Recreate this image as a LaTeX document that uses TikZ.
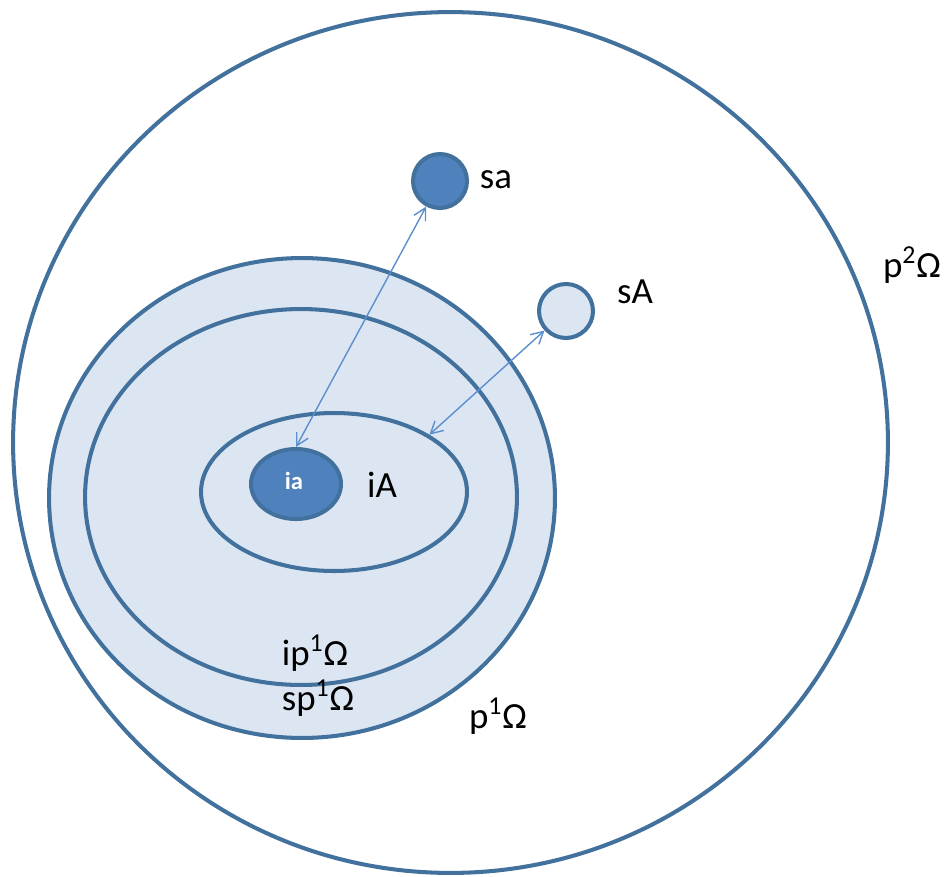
\documentclass[tikz,border=0pt]{standalone}
\usepackage{fontspec}
\setmainfont{Carlito}
\usetikzlibrary{arrows.meta, shapes.geometric}
\definecolor{setEdge}{HTML}{41719C}
\definecolor{setFill}{HTML}{DCE6F2}
\definecolor{setDark}{HTML}{4F81BD}
\definecolor{arrowBlue}{HTML}{5B8FD0}
\tikzset{
  ringA/.style={ellipse, draw=setEdge, line width=2.3pt, inner sep=0pt},
  ringFill/.style={ringA, fill=setFill},
  ringDark/.style={ringA, fill=setDark},
  arrowB/.style={{Straight Barb[length=2.4mm,width=2.6mm]}-{Straight Barb[length=2.4mm,width=2.6mm]},
                 arrowBlue, line width=0.8pt},
  lbl/.style={anchor=base, inner sep=0pt, font=\fontsize{21}{25}\selectfont},
}
\begin{document}
\begin{tikzpicture}[x=0.02cm, y=-0.02cm]
  \useasboundingbox (0,0) rectangle (949,876);
  % sets, outermost first
  \node[ringA, minimum width=17.5cm, minimum height=17.22cm] (p2) at (450.5,442.5) {};
  \node[ringFill, minimum width=10.12cm, minimum height=9.6cm] (sp1) at (302,498) {};
  \node[ringFill, minimum width=8.64cm, minimum height=7.52cm] (ip1) at (301,497) {};
  \node[ringFill, minimum width=5.32cm, minimum height=3.16cm] (iA) at (334,492) {};
  \node[ringDark, minimum width=1.8cm, minimum height=1.4cm] (ia) at (296,484) {};
  \node[ringDark, circle, minimum size=1.08cm] (sa) at (440,181) {};
  \node[ringFill, circle, minimum size=1.08cm] (sA) at (566,311) {};
  % links
  \draw[arrowB] (sa) -- (ia.north);
  \draw[arrowB] (sA) -- (iA.31);
  % labels
  \node[lbl, font=\fontsize{14}{16}\selectfont\bfseries, text=white] (iaT) at (294,489) {ia};
  \node[lbl] (saT) at (496,188) {sa};
  \node[lbl] (sAT) at (635,303) {sA};
  \node[lbl] (iAT) at (382,497) {iA};
  \node[lbl] (p2T) at (912,277) {p\textsuperscript{2}Ω};
  \node[lbl] (ip1T) at (315,665) {ip\textsuperscript{1}Ω};
  \node[lbl] (sp1T) at (318,710) {sp\textsuperscript{1}Ω};
  \node[lbl] (p1T) at (498,728) {p\textsuperscript{1}Ω};
\end{tikzpicture}
\end{document}
